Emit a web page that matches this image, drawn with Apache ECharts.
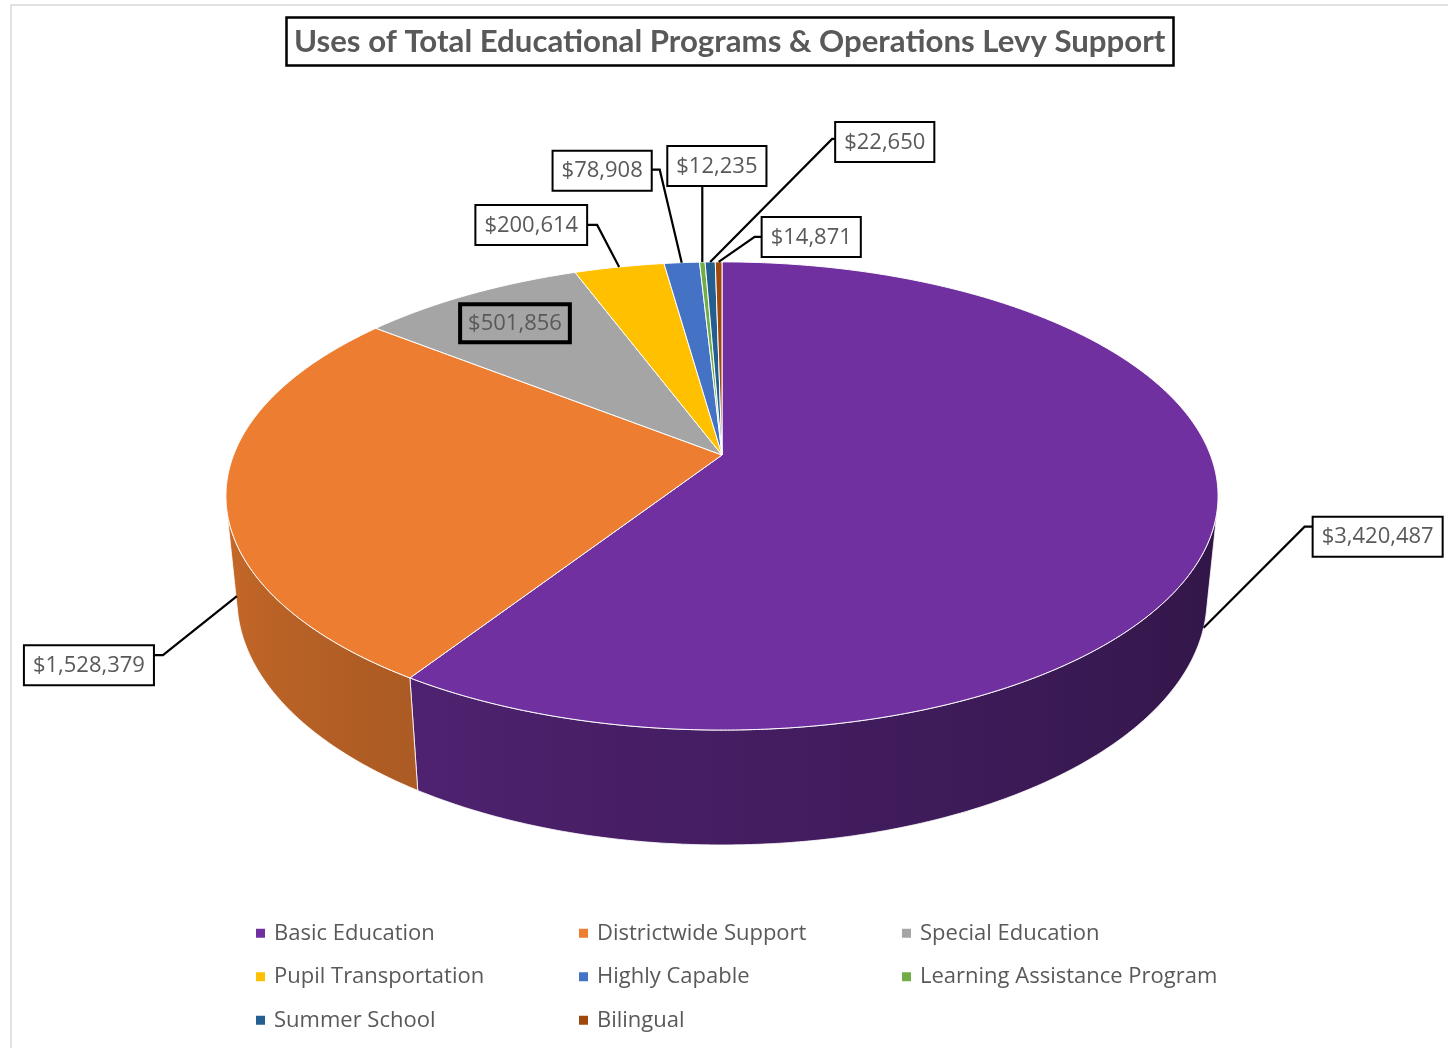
<!DOCTYPE html>
<html>
<head>
<meta charset="utf-8">
<script src="https://cdn.jsdelivr.net/npm/echarts@6/dist/echarts.min.js"></script>
<style>html,body{margin:0;padding:0;background:#fff;}#chart{width:1448px;height:1048px;}</style>
</head>
<body>
<div id="chart"></div>
<script>
// ---------- data ----------
const chartTitle = 'Uses of Total Educational Programs & Operations Levy Support';
const categories = ['Basic Education', 'Districtwide Support', 'Special Education', 'Pupil Transportation',
  'Highly Capable', 'Learning Assistance Program', 'Summer School', 'Bilingual'];
const amounts = [3420487, 1528379, 501856, 200614, 78908, 12235, 22650, 14871];
const sliceColors = ['#7030A0', '#ED7D31', '#A5A5A5', '#FFC000', '#4472C4', '#70AD47', '#255E91', '#9E480E'];

// ---------- label placement (style, relative to each slice's anchor) ----------
const labelPlacement = [
  { side: 'right', anchor: 'bottom', dx: 110, dy: -101, ay: 9, elbow: 9 },
  { side: 'left', anchor: 'bottom', dx: -84, dy: 59, ay: 9, elbow: 10 },
  { side: 'inside', r: 0.8 },
  { side: 'left', anchor: 'top', dx: -33, dy: -42, ay: 19, elbow: 11 },
  { side: 'left', anchor: 'top', dx: -31, dy: -93, ay: 18, elbow: 9 },
  { side: 'above', anchor: 'top', dy: -77, ax: 34 },
  { side: 'right', anchor: 'top', dx: 126, dy: -123, ay: 16, elbow: 4 },
  { side: 'right', anchor: 'top', dx: 44, dy: -25, ay: 19, elbow: 8 }
];

// ---------- 3D projection of the pie (layout) ----------
const CX = 722, CY = 455, FOC = 488.4, SIN_A = 0.4646, COS_A = 0.8855, PQ = 0.175, PP = 0.0918, THICK = 0.239;
function proj(theta, r, h) {
  const u = r * Math.sin(theta), v = r * Math.cos(theta);
  const z = 1 + PQ * v - PP * h;
  return [CX + FOC * u / z, CY - FOC * (v * SIN_A + h * COS_A) / z];
}
function shadeFactor(theta) {
  const d = theta * 180 / Math.PI;
  const r = Math.max(0, Math.min(1.1, (d - 100) / 170));
  return 0.39 + 0.47 * Math.pow(r, 1.2);
}
function shade(hex, f) {
  const n = parseInt(hex.slice(1), 16);
  const R = (n >> 16) & 255, G = (n >> 8) & 255, B = n & 255;
  const lum = (0.299 * R + 0.587 * G + 0.114 * B) / 255;
  const ff = f + (1 - f) * 0.25 * lum;
  return 'rgb(' + Math.round(R * ff) + ',' + Math.round(G * ff) + ',' + Math.round(B * ff) + ')';
}
function money(v) { return '$' + v.toLocaleString('en-US'); }

const total = amounts.reduce((a, b) => a + b, 0);

function renderSlice(params, api) {
  const i = params.seriesIndex;
  const val = api.value(0);
  let cum = 0;
  for (let k = 0; k < i; k++) cum += amounts[k];
  const a0 = cum / total * 2 * Math.PI;
  const a1 = (cum + val) / total * 2 * Math.PI;
  const step = 0.4 * Math.PI / 180;
  const n = Math.max(2, Math.ceil((a1 - a0) / step));
  const thetas = [];
  for (let j = 0; j <= n; j++) thetas.push(a0 + (a1 - a0) * j / n);
  const children = [];

  // top face
  const topPts = [proj(0, 0, 0)].concat(thetas.map(t => proj(t, 1, 0)));
  children.push({ type: 'polygon', shape: { points: topPts },
    style: { fill: sliceColors[i], stroke: '#ffffff', lineWidth: 1, lineJoin: 'round' }, z2: 10 });

  // outer wall (front-facing parts only)
  const vis = [];
  for (let j = 0; j < n; j++) {
    const T1 = proj(thetas[j], 1, 0), T2 = proj(thetas[j + 1], 1, 0), B1 = proj(thetas[j], 1, -THICK);
    const cross = (T2[0] - T1[0]) * (B1[1] - T1[1]) - (T2[1] - T1[1]) * (B1[0] - T1[0]);
    vis.push(cross < 0);
  }
  let j = 0;
  while (j < n) {
    if (!vis[j]) { j++; continue; }
    let k = j;
    while (k < n && vis[k]) k++;
    const run = thetas.slice(j, k + 1);
    const tp = run.map(t => proj(t, 1, 0));
    const bp = run.map(t => proj(t, 1, -THICK)).reverse();
    const xs = tp.map(p => p[0]);
    const xmin = Math.min.apply(null, xs), xmax = Math.max.apply(null, xs);
    const stops = [];
    const m = 12;
    for (let s = 0; s <= m; s++) {
      const t = run[0] + (run[run.length - 1] - run[0]) * s / m;
      const x = proj(t, 1, 0)[0];
      stops.push({ offset: xmax > xmin ? (x - xmin) / (xmax - xmin) : 0, color: shade(sliceColors[i], shadeFactor(t)) });
    }
    stops.sort((p, q) => p.offset - q.offset);
    children.push({ type: 'polygon', shape: { points: tp.concat(bp) },
      style: { fill: { type: 'linear', x: xmin, y: 0, x2: xmax, y2: 0, global: true, colorStops: stops },
        stroke: '#ffffff', lineWidth: 0.8 }, z2: 1 });
    j = k;
  }

  // data label
  const lp = labelPlacement[i];
  const mid = (a0 + a1) / 2;
  const txt = money(val);
  const baseStyle = { text: txt, fill: '#595959', fontFamily: 'Open Sans', fontSize: 22, lineHeight: 29,
    padding: [5, 8, 4, 8], backgroundColor: '#ffffff', borderColor: '#000000', borderWidth: 2 };
  if (lp.side === 'inside') {
    const P = proj(mid, lp.r, 0);
    children.push({ type: 'text', x: P[0], y: P[1], z2: 20,
      style: Object.assign({}, baseStyle, { align: 'center', verticalAlign: 'middle', backgroundColor: 'transparent' }) });
  } else {
    const A = proj(mid, 1, lp.anchor === 'bottom' ? -THICK : 0);
    let pts, tx, ty, align, valign;
    if (lp.side === 'above') {
      const end = [A[0], A[1] + lp.dy];
      pts = [A, end];
      tx = A[0] - lp.ax; ty = end[1]; align = 'left'; valign = 'bottom';
    } else {
      const att = [A[0] + lp.dx, A[1] + lp.dy];
      const el = [att[0] + (lp.side === 'right' ? -lp.elbow : lp.elbow), att[1]];
      pts = [A, el, att];
      tx = att[0]; ty = att[1] - lp.ay; align = lp.side === 'right' ? 'left' : 'right'; valign = 'top';
    }
    children.push({ type: 'polyline', shape: { points: pts }, z2: 19,
      style: { stroke: '#000000', lineWidth: 2.2, fill: null } });
    children.push({ type: 'text', x: tx, y: ty, z2: 20,
      style: Object.assign({}, baseStyle, { align: align, verticalAlign: valign }) });
  }
  return { type: 'group', children: children };
}

const chart = echarts.init(document.getElementById('chart'), null, { renderer: 'canvas' });
chart.setOption({
  animation: false,
  backgroundColor: '#ffffff',
  color: sliceColors,
  title: {
    text: chartTitle, left: 286, top: 17, padding: [7, 8, 6, 8],
    borderColor: '#000000', borderWidth: 2.5,
    textStyle: { fontFamily: 'Lato', fontWeight: 'bold', fontSize: 31.2, lineHeight: 36, color: '#595959' }
  },
  graphic: [{ type: 'rect', shape: { x: 11, y: 5, width: 1480, height: 1080 }, silent: true,
    style: { fill: null, stroke: '#d9d9d9', lineWidth: 1.5 }, z: -10 }],
  legend: {
    left: 251, top: 909, width: 990, orient: 'horizontal',
    itemWidth: 9, itemHeight: 9, itemGap: 5, icon: 'rect',
    textStyle: { fontFamily: 'Open Sans', fontSize: 22, color: '#595959', width: 300, lineHeight: 38.5,
      padding: [0, 0, 0, 4] },
    data: categories
  },
  series: categories.map((name, idx) => ({
    type: 'custom', name: name, coordinateSystem: 'none',
    data: [[amounts[idx]]],
    renderItem: renderSlice
  }))
});
</script>
</body>
</html>
